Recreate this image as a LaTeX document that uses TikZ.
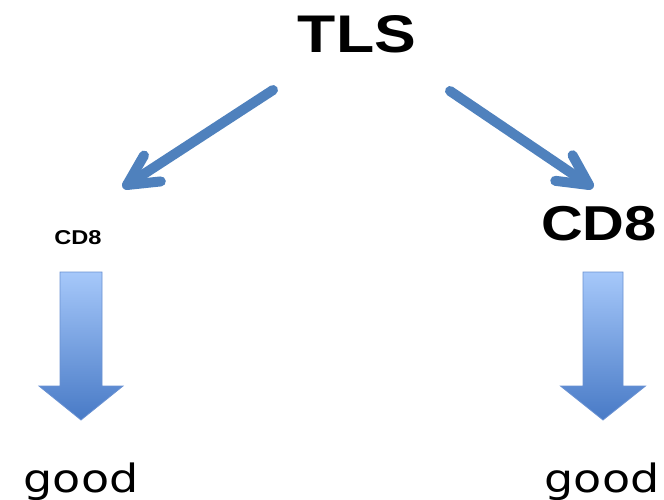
\documentclass[tikz,border=0pt]{standalone}
\usepackage{fontspec}
\usetikzlibrary{calc}
\newfontfamily\headfont{Liberation Sans}
\newfontfamily\goodfont{DejaVu Sans}
\definecolor{linkblue}{RGB}{79,129,189}
\definecolor{blocktop}{RGB}{166,200,250}
\definecolor{blockbot}{RGB}{72,122,198}
\definecolor{blockrim}{RGB}{105,145,210}
\tikzset{
  link/.style={draw=linkblue, line width=10pt, line cap=round, line join=round},
  blockarrow/.style={draw=blockrim, line width=0.8pt,
    top color=blocktop, bottom color=blockbot},
  headtext/.style={font=\headfont\bfseries, anchor=base, xscale=1.18},
  goodtext/.style={font=\goodfont\fontsize{39}{42}\selectfont, anchor=base, xscale=1.18}
}

\begin{document}
\begin{tikzpicture}[x=1pt,y=-1pt]
  \useasboundingbox (0,0) rectangle (664,500);

  \node[headtext, font=\headfont\bfseries\fontsize{53}{56}\selectfont] (tls) at (357,53) {TLS};
  \node[headtext, font=\headfont\bfseries\fontsize{20}{22}\selectfont] (cdleft) at (78,244) {CD8};
  \node[headtext, font=\headfont\bfseries\fontsize{49}{52}\selectfont] (cdright) at (599,240) {CD8};
  \node[goodtext] (goodleft) at (81,492) {good};
  \node[goodtext] (goodright) at (602,492) {good};

  \coordinate (l1) at (273,90);
  \coordinate (l2) at (127,185);
  \coordinate (r1) at (450,91);
  \coordinate (r2) at (589,185);
  \draw[link] (l1) -- (l2);
  \draw[link] (r1) -- (r2);
  % open heads
  \draw[link] ($(l2)!34pt!27:(l1)$) -- (l2) -- ($(l2)!34pt!-27:(l1)$);
  \draw[link] ($(r2)!34pt!27:(r1)$) -- (r2) -- ($(r2)!34pt!-27:(r1)$);

  % block arrows CD8 -> good
  \foreach \cx/\sw/\hw in {81/21/42, 603/20/42.5}
    \path[blockarrow] (\cx-\sw,272) -- (\cx+\sw,272) -- (\cx+\sw,386)
      -- (\cx+\hw,386) -- (\cx,420) -- (\cx-\hw,386) -- (\cx-\sw,386) -- cycle;

\end{tikzpicture}
\end{document}
